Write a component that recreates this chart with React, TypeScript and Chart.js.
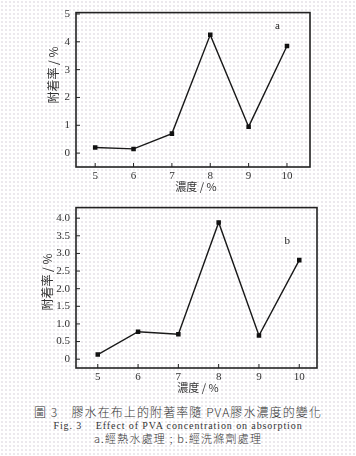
import React, { useEffect, useRef } from "react";
import { Chart, registerables } from "chart.js";

Chart.register(...registerables);

const concentrations = [5, 6, 7, 8, 9, 10];
const seriesA = [0.2, 0.15, 0.7, 4.25, 0.95, 3.85];
const seriesB = [0.13, 0.78, 0.71, 3.88, 0.67, 2.81];
const yTicksA = [0, 1, 2, 3, 4, 5];
const yTicksB = [0, 0.5, 1, 1.5, 2, 2.5, 3, 3.5, 4];
const yTitle = "附着率 / %";
const xTitle = "濃度 / %";
const captionLines = [
  "圖 3　膠水在布上的附著率隨 PVA膠水濃度的變化",
  "Fig. 3    Effect of PVA concentration on absorption",
  "a.經熱水處理 ; b.經洗滌劑處理",
];

const SERIF = "'Liberation Serif', 'DejaVu Serif', serif";
const CJK = "'Noto Sans CJK TC', 'Noto Sans CJK SC', serif";

type PanelCfg = {
  values: number[];
  yTicks: number[];
  yMin: number;
  yMax: number;
  xMin: number;
  xMax: number;
  yFmt: (v: number) => string;
  pad: { top: number; right: number };
  xAxisH: number;
  letter: string;
  letterPos: [number, number];
  yTitlePos: [number, number];
  xTitlePos: [number, number];
  height: number;
};

function Panel({ cfg }: { cfg: PanelCfg }) {
  const ref = useRef<HTMLCanvasElement | null>(null);
  useEffect(() => {
    if (!ref.current) return;
    const decor = {
      id: "decor",
      afterDraw(chart: any) {
        const ctx = chart.ctx;
        const a = chart.chartArea;
        const xs = chart.scales.x;
        const ys = chart.scales.y;
        ctx.save();
        ctx.strokeStyle = "#222";
        ctx.lineWidth = 1.6;
        ctx.strokeRect(a.left, a.top, a.right - a.left, a.bottom - a.top);
        ctx.lineWidth = 1;
        ctx.beginPath();
        concentrations.forEach((v) => {
          const px = xs.getPixelForValue(v);
          ctx.moveTo(px, a.bottom);
          ctx.lineTo(px, a.bottom - 4);
        });
        cfg.yTicks.forEach((v) => {
          const py = ys.getPixelForValue(v);
          ctx.moveTo(a.left, py);
          ctx.lineTo(a.left + 4, py);
        });
        ctx.stroke();
        ctx.fillStyle = "#222";
        ctx.textAlign = "center";
        ctx.textBaseline = "middle";
        ctx.font = `11px ${SERIF}`;
        ctx.fillText(
          cfg.letter,
          xs.getPixelForValue(cfg.letterPos[0]),
          ys.getPixelForValue(cfg.letterPos[1])
        );
        ctx.fillStyle = "#333";
        ctx.font = `11px ${CJK}`;
        ctx.fillText(xTitle, cfg.xTitlePos[0], cfg.xTitlePos[1]);
        ctx.font = `12px ${CJK}`;
        ctx.translate(cfg.yTitlePos[0], cfg.yTitlePos[1]);
        ctx.rotate(-Math.PI / 2);
        ctx.fillText(yTitle, 0, 0);
        ctx.restore();
      },
    };
    const chart = new Chart(ref.current, {
      type: "line",
      data: {
        datasets: [
          {
            data: concentrations.map((x, i) => ({ x, y: cfg.values[i] })),
            borderColor: "#1a1a1a",
            borderWidth: 1.4,
            backgroundColor: "#111",
            pointStyle: "rect",
            pointRadius: 3.2,
            pointBorderWidth: 0,
            tension: 0,
          },
        ],
      },
      options: {
        animation: false,
        responsive: false,
        maintainAspectRatio: false,
        layout: { padding: { top: cfg.pad.top, right: cfg.pad.right, left: 0, bottom: 0 } },
        plugins: { legend: { display: false }, tooltip: { enabled: false } },
        scales: {
          x: {
            type: "linear",
            min: cfg.xMin,
            max: cfg.xMax,
            grid: { display: false, drawTicks: false },
            border: { display: false },
            ticks: {
              padding: 3,
              color: "#333",
              font: { family: SERIF, size: 11 },
              callback: (v: any) => String(v),
            },
            afterBuildTicks: (s: any) => {
              s.ticks = concentrations.map((v) => ({ value: v }));
            },
            afterFit: (s: any) => {
              s.height = cfg.xAxisH;
            },
          },
          y: {
            type: "linear",
            min: cfg.yMin,
            max: cfg.yMax,
            grid: { display: false, drawTicks: false },
            border: { display: false },
            ticks: {
              padding: 6,
              color: "#333",
              font: { family: SERIF, size: 11 },
              callback: (v: any) => cfg.yFmt(Number(v)),
            },
            afterBuildTicks: (s: any) => {
              s.ticks = cfg.yTicks.map((v) => ({ value: v }));
            },
            afterFit: (s: any) => {
              s.width = 76;
            },
          },
        },
      },
      plugins: [decor],
    } as any);
    return () => chart.destroy();
  }, [cfg]);
  return <canvas ref={ref} width={356} height={cfg.height} style={{ display: "block" }} />;
}

const panelA: PanelCfg = {
  values: seriesA,
  yTicks: yTicksA,
  yMin: -0.5,
  yMax: 5.05,
  xMin: 4.5,
  xMax: 10.6,
  yFmt: (v) => String(v),
  pad: { top: 8, right: 46 },
  xAxisH: 28,
  letter: "a",
  letterPos: [9.75, 4.55],
  yTitlePos: [53, 75],
  xTitlePos: [196, 187],
  height: 195,
};

const panelB: PanelCfg = {
  values: seriesB,
  yTicks: yTicksB,
  yMin: -0.25,
  yMax: 4.3,
  xMin: 4.46,
  xMax: 10.44,
  yFmt: (v) => (v === 0 ? "0" : v.toFixed(1)),
  pad: { top: 10, right: 39 },
  xAxisH: 27,
  letter: "b",
  letterPos: [9.7, 3.34],
  yTitlePos: [47, 87],
  xTitlePos: [198, 193],
  height: 200,
};

export default function App() {
  useEffect(() => {
    document.body.style.margin = "0";
  }, []);
  const bg =
    "radial-gradient(circle, rgba(190,180,195,0.55) 0.55px, transparent 0.9px) 0 0 / 4px 4px, #ffffff";
  const common: React.CSSProperties = {
    position: "absolute",
    left: 0,
    width: 356,
    textAlign: "center",
    color: "#333",
    whiteSpace: "pre",
  };
  return (
    <div
      style={{
        position: "absolute",
        left: 0,
        top: 0,
        width: 356,
        height: 456,
        background: bg,
        overflow: "hidden",
      }}
    >
      <div style={{ position: "absolute", left: 0, top: 0 }}>
        <Panel cfg={panelA} />
      </div>
      <div style={{ position: "absolute", left: 0, top: 195 }}>
        <Panel cfg={panelB} />
      </div>
      <div
        style={{
          ...common,
          top: 404,
          fontFamily: CJK,
          fontSize: 12,
          fontWeight: 300,
          letterSpacing: "1.1px",
          lineHeight: "16px",
        }}
      >
        {captionLines[0]}
      </div>
      <div
        style={{
          ...common,
          top: 419,
          fontFamily: SERIF,
          fontSize: 10,
          letterSpacing: "0.9px",
          lineHeight: "14px",
        }}
      >
        {captionLines[1]}
      </div>
      <div
        style={{
          ...common,
          top: 430,
          fontFamily: CJK,
          fontSize: 11,
          fontWeight: 300,
          letterSpacing: "1.2px",
          lineHeight: "16px",
        }}
      >
        {captionLines[2]}
      </div>
    </div>
  );
}
